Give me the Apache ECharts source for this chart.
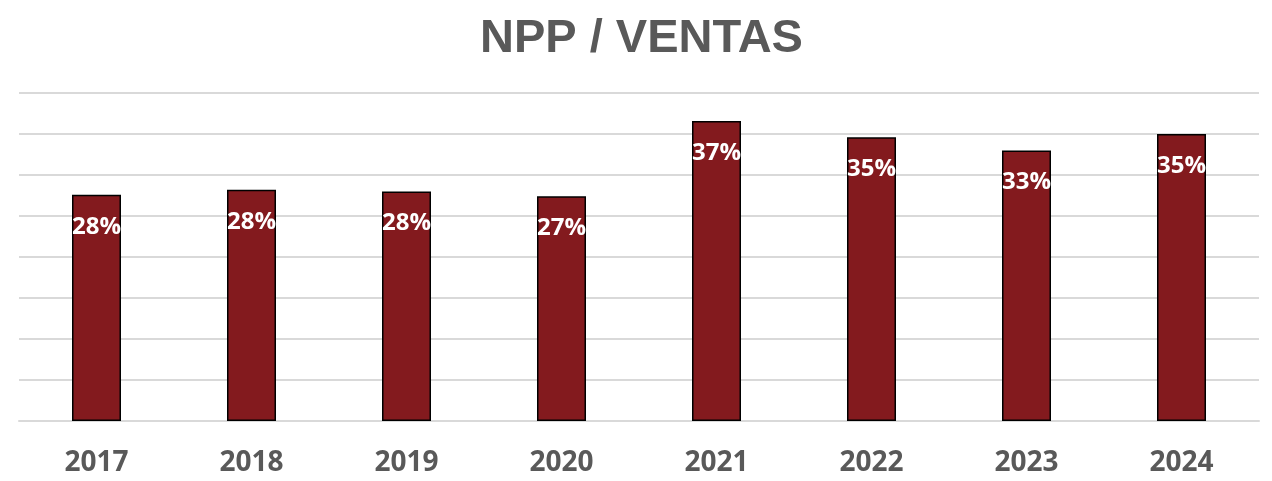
<!DOCTYPE html>
<html><head><meta charset="utf-8">
<script src="https://cdn.jsdelivr.net/npm/echarts@6/dist/echarts.min.js"></script>
<style>html,body{margin:0;padding:0;background:#fff}#c{width:1272px;height:481px}</style>
</head><body><div id="c"></div>
<script>
const categories = ['2017','2018','2019','2020','2021','2022','2023','2024'];
const values = [27.6, 28.2, 28.0, 27.4, 36.6, 34.6, 33.0, 35.0];
const chart = echarts.init(document.getElementById('c'));
chart.setOption({
  animation: false,
  title: {text: 'NPP / VENTAS', left: 475, top: 11,
    textStyle: {fontFamily: 'Liberation Sans', fontWeight: 'bold', fontSize: 47, color: '#595959'}},
  grid: {left: 19, right: 13, top: 93, bottom: 60},
  xAxis: {type: 'category', data: categories,
    axisLine: {lineStyle: {color: '#d9d9d9', width: 2}}, axisTick: {show: false},
    axisLabel: {fontFamily: 'Open Sans', fontWeight: 'bold', fontSize: 28, color: '#595959', margin: 28}},
  yAxis: {type: 'value', min: 0, max: 40, interval: 5, axisLabel: {show: false},
    axisLine: {show: false}, axisTick: {show: false},
    splitLine: {lineStyle: {color: '#d9d9d9', width: 2}}},
  series: [{type: 'bar', data: values, barWidth: 49,
    itemStyle: {color: '#831a1e', borderColor: '#000', borderWidth: 1.5},
    label: {show: true, position: 'insideTop', distance: 20,
      formatter: p => Math.round(p.value) + '%',
      fontFamily: 'Open Sans', fontWeight: 'bold', fontSize: 24, color: '#fff'}}]
});
</script></body></html>
